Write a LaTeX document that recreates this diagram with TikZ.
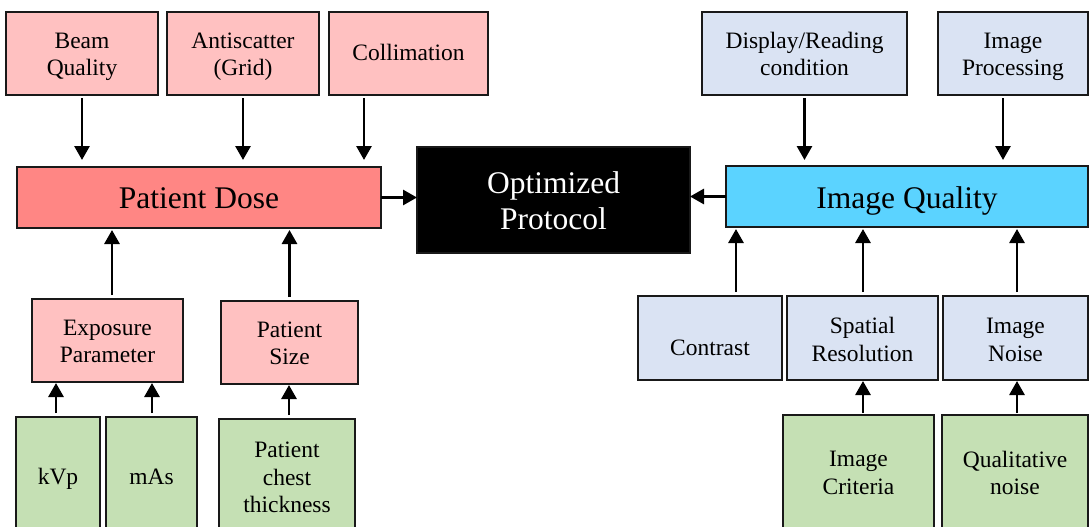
\documentclass[tikz,border=0pt]{standalone}
\usepackage{fontspec}
\setmainfont{Liberation Serif}
\usetikzlibrary{arrows.meta}
\definecolor{pinklt}{HTML}{FFC1C1}
\definecolor{pinkdk}{HTML}{FF8684}
\definecolor{bluelt}{HTML}{DAE3F3}
\definecolor{cyanbox}{HTML}{5BD3FF}
\definecolor{greenlt}{HTML}{C5E0B4}
% centred block of lines, its ink raised by #1 while the box keeps its size
\newcommand{\boxtext}[2][0pt]{\raisebox{#1}[\height][\depth]{\begin{tabular}{@{}c@{}}#2\end{tabular}}}
\begin{document}
\begin{tikzpicture}[x=1pt,y=-1pt,
  box/.style={draw=black!90, line width=1.4pt, inner sep=0pt, outer sep=0pt,
    align=center, font=\fontsize{23.5}{27.5}\selectfont},
  big/.style={box, font=\fontsize{31.5}{36}\selectfont},
  arr/.style={line width=2.8pt, -{Triangle[width=15pt,length=14pt]}}]
\useasboundingbox (0,0) rectangle (1090,527);
\clip (0,0) rectangle (1090,527);

% dose side: top factors
\node[box, fill=pinklt, minimum width=152pt, minimum height=83pt] (bq) at (82,53.5) {\boxtext[-3pt]{Beam\\Quality}};
\node[box, fill=pinklt, minimum width=152pt, minimum height=83pt] (as) at (243,53.5) {\boxtext[-3pt]{Antiscatter\\(Grid)}};
\node[box, fill=pinklt, minimum width=159pt, minimum height=83pt] (col) at (408.5,53.5) {\boxtext[-2pt]{Collimation}};

% main blocks
\node[big, fill=pinkdk, minimum width=364pt, minimum height=61pt] (pd) at (199,197.5) {\boxtext[-4pt]{Patient Dose}};
\node[big, fill=black, text=white, minimum width=273pt, minimum height=106pt] (op) at (553.5,200) {\boxtext[-4.5pt]{Optimized\\Protocol}};
\node[big, fill=cyanbox, minimum width=362pt, minimum height=61pt] (iq) at (907,196.5) {\boxtext[-5pt]{Image Quality}};

% quality side: top factors
\node[box, fill=bluelt, minimum width=205pt, minimum height=83pt] (dr) at (804.5,53.5) {\boxtext[-3pt]{Display/Reading\\condition}};
\node[box, fill=bluelt, minimum width=150pt, minimum height=83pt] (ip) at (1013,53.5) {\boxtext[-3pt]{Image\\Processing}};

% dose side: lower factors
\node[box, fill=pinklt, minimum width=151pt, minimum height=83pt] (ep) at (107.5,340.5) {\boxtext[-3pt]{Exposure\\Parameter}};
\node[box, fill=pinklt, minimum width=137pt, minimum height=83pt] (ps) at (289.5,342.5) {\boxtext[-3pt]{Patient\\Size}};
\node[box, fill=greenlt, minimum width=84pt, minimum height=123pt] (kvp) at (58,478.5) {\boxtext{kVp}};
\node[box, fill=greenlt, minimum width=91pt, minimum height=123pt] (mas) at (151.5,478.5) {\boxtext{mAs}};
\node[box, fill=greenlt, minimum width=136pt, minimum height=121pt] (pct) at (287,479.5) {\boxtext{Patient\\chest\\thickness}};

% quality side: lower factors
\node[box, fill=bluelt, minimum width=144pt, minimum height=84pt] (con) at (710,338) {\boxtext[-12pt]{Contrast}};
\node[box, fill=bluelt, minimum width=151pt, minimum height=84pt] (sr) at (862.5,338) {\boxtext[-4pt]{Spatial\\Resolution}};
\node[box, fill=bluelt, minimum width=145pt, minimum height=84pt] (inz) at (1015.5,338) {\boxtext[-4pt]{Image\\Noise}};
\node[box, fill=greenlt, minimum width=151pt, minimum height=125pt] (ic) at (858.5,477.5) {\boxtext[2.5pt]{Image\\Criteria}};
\node[box, fill=greenlt, minimum width=146pt, minimum height=125pt] (qn) at (1015,477.5) {\boxtext[2pt]{Qualitative\\noise}};

% arrows into Patient Dose
\draw[arr] ([yshift=-3pt]bq.south) -- ([yshift=7pt]bq.south |- pd.north);
\draw[arr] ([yshift=-3pt]as.south) -- ([yshift=7pt]as.south |- pd.north);
\draw[arr] ([xshift=-44.5pt,yshift=-3pt]col.south) -- ([xshift=-44.5pt,yshift=7pt]col.south |- pd.north);
\draw[arr] ([xshift=4.5pt,yshift=4pt]ep.north) -- ([xshift=4.5pt,yshift=-2pt]ep.north |- pd.south);
\draw[arr] ([yshift=4pt]ps.north) -- ([yshift=-2pt]ps.north |- pd.south);

% arrows into the lower dose factors
\draw[arr] ([xshift=-2pt,yshift=4pt]kvp.north) -- ([xshift=-2pt,yshift=-1pt]kvp.north |- ep.south);
\draw[arr] ([xshift=0.5pt,yshift=4pt]mas.north) -- ([xshift=0.5pt,yshift=-1pt]mas.north |- ep.south);
\draw[arr] ([xshift=2pt,yshift=4pt]pct.north) -- ([xshift=2pt,yshift=-1pt]pct.north |- ps.south);

% arrows into the optimized protocol
\draw[arr] (pd.east) -- (pd.east -| op.west);
\draw[arr] (iq.west) -- (iq.west -| op.east);

% arrows into Image Quality
\draw[arr] ([yshift=-3pt]dr.south) -- ([yshift=6pt]dr.south |- iq.north);
\draw[arr] ([xshift=-10pt,yshift=-3pt]ip.south) -- ([xshift=-10pt,yshift=6pt]ip.south |- iq.north);
\draw[arr] ([xshift=26pt,yshift=4pt]con.north) -- ([xshift=26pt,yshift=-2pt]con.north |- iq.south);
\draw[arr] ([xshift=0.5pt,yshift=4pt]sr.north) -- ([xshift=0.5pt,yshift=-2pt]sr.north |- iq.south);
\draw[arr] ([xshift=1.5pt,yshift=4pt]inz.north) -- ([xshift=1.5pt,yshift=-2pt]inz.north |- iq.south);

% arrows into the lower quality factors
\draw[arr] ([xshift=4.5pt,yshift=2pt]ic.north) -- ([xshift=4.5pt,yshift=-1pt]ic.north |- sr.south);
\draw[arr] ([xshift=2pt,yshift=2pt]qn.north) -- ([xshift=2pt,yshift=-1pt]qn.north |- inz.south);
\end{tikzpicture}
\end{document}
